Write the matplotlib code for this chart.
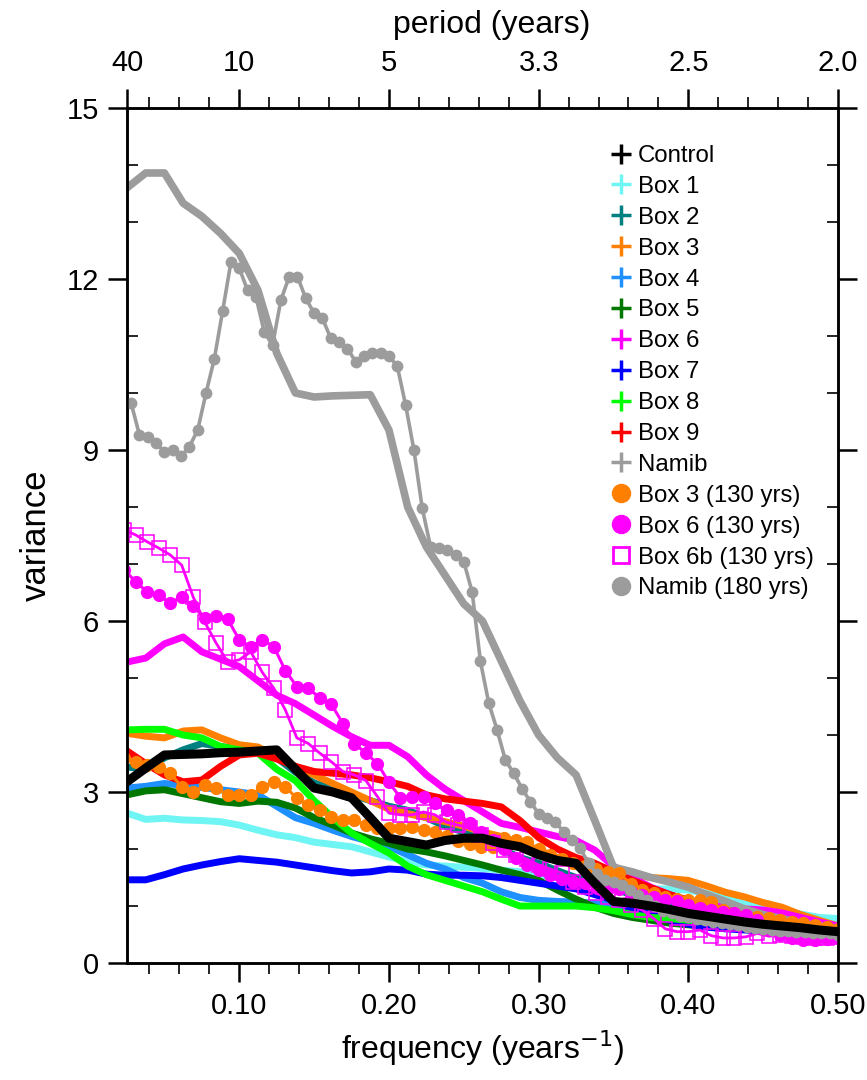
import numpy as np
import matplotlib
matplotlib.use("Agg")
import matplotlib.pyplot as plt
from matplotlib.lines import Line2D
from matplotlib.ticker import MultipleLocator, FixedLocator

plt.rcParams["font.family"] = ["Liberation Sans", "DejaVu Sans"]

# frequency grids (cycles per year)
freq_80 = np.arange(2, 41) / 80.0      # 40-yr runs
freq_130 = np.arange(3, 66) / 130.0    # 130-yr runs
freq_180 = np.arange(5, 91) / 180.0    # Namib 180-yr

control = [3.18, 3.42, 3.65, 3.66, 3.67, 3.69, 3.70, 3.72, 3.74, 3.40,
           3.07, 3.00, 2.90, 2.55, 2.19, 2.13, 2.07, 2.15, 2.19, 2.19,
           2.10, 2.04, 1.90, 1.80, 1.75, 1.40, 1.08, 1.05, 1.00, 0.94,
           0.87, 0.82, 0.77, 0.72, 0.68, 0.65, 0.62, 0.58, 0.55]
box1 = [2.63, 2.52, 2.54, 2.51, 2.50, 2.48, 2.42, 2.33, 2.25, 2.20,
        2.12, 2.08, 2.04, 1.95, 1.86, 1.78, 1.72, 1.70, 1.68, 1.66,
        1.63, 1.60, 1.55, 1.50, 1.45, 1.40, 1.35, 1.30, 1.30, 1.30,
        1.28, 1.22, 1.15, 1.08, 1.00, 0.93, 0.86, 0.80, 0.78]
box2 = [3.44, 3.40, 3.60, 3.74, 3.85, 3.80, 3.75, 3.72, 3.60, 3.35,
        3.16, 3.05, 2.95, 2.85, 2.75, 2.68, 2.55, 2.40, 2.30, 2.15,
        2.00, 1.85, 1.75, 1.62, 1.50, 1.40, 1.30, 1.20, 1.12, 1.05,
        0.98, 0.92, 0.86, 0.80, 0.75, 0.70, 0.66, 0.62, 0.58]
box3 = [4.03, 3.98, 3.95, 4.07, 4.09, 3.95, 3.83, 3.79, 3.62, 3.45,
        3.30, 3.15, 3.00, 2.85, 2.70, 2.62, 2.55, 2.48, 2.40, 2.30,
        2.22, 2.10, 1.98, 1.85, 1.75, 1.68, 1.62, 1.56, 1.50, 1.48,
        1.45, 1.35, 1.24, 1.16, 1.06, 0.98, 0.85, 0.75, 0.65]
box4 = [3.07, 3.10, 3.15, 3.12, 3.08, 3.04, 3.00, 2.95, 2.75, 2.55,
        2.45, 2.33, 2.22, 2.13, 2.04, 1.90, 1.75, 1.65, 1.50, 1.40,
        1.25, 1.15, 1.10, 1.08, 1.07, 1.05, 1.00, 0.95, 0.90, 0.85,
        0.80, 0.75, 0.70, 0.66, 0.62, 0.60, 0.57, 0.55, 0.52]
box5 = [2.95, 3.02, 3.04, 2.97, 2.90, 2.83, 2.80, 2.84, 2.82, 2.72,
        2.55, 2.42, 2.28, 2.18, 2.10, 2.00, 1.95, 1.88, 1.80, 1.72,
        1.63, 1.55, 1.45, 1.28, 1.12, 0.98, 0.87, 0.80, 0.75, 0.70,
        0.67, 0.64, 0.62, 0.60, 0.58, 0.56, 0.55, 0.53, 0.52]
box6 = [5.28, 5.35, 5.60, 5.72, 5.46, 5.33, 5.20, 4.95, 4.70, 4.55,
        4.35, 4.15, 3.97, 3.82, 3.82, 3.62, 3.30, 3.05, 2.85, 2.65,
        2.45, 2.38, 2.30, 2.22, 2.15, 1.98, 1.70, 1.50, 1.33, 1.20,
        1.10, 1.02, 0.98, 0.95, 0.93, 0.88, 0.80, 0.72, 0.65]
box7 = [1.46, 1.46, 1.55, 1.65, 1.72, 1.78, 1.83, 1.80, 1.77, 1.72,
        1.67, 1.62, 1.58, 1.60, 1.65, 1.63, 1.56, 1.54, 1.54, 1.53,
        1.50, 1.45, 1.40, 1.35, 1.30, 1.20, 1.10, 0.95, 0.85, 0.75,
        0.68, 0.63, 0.60, 0.58, 0.56, 0.55, 0.53, 0.52, 0.50]
box8 = [4.09, 4.10, 4.10, 4.00, 3.95, 3.80, 3.74, 3.68, 3.40, 3.20,
        2.85, 2.55, 2.28, 2.10, 1.93, 1.70, 1.55, 1.45, 1.35, 1.25,
        1.12, 1.00, 1.00, 1.00, 1.00, 0.97, 0.92, 0.85, 0.80, 0.78,
        0.75, 0.72, 0.70, 0.68, 0.65, 0.62, 0.60, 0.57, 0.55]
box9 = [3.72, 3.50, 3.30, 3.18, 3.21, 3.45, 3.65, 3.68, 3.58, 3.45,
        3.36, 3.33, 3.30, 3.25, 3.18, 3.10, 2.95, 2.88, 2.84, 2.80,
        2.74, 2.50, 2.20, 2.00, 1.85, 1.75, 1.60, 1.45, 1.32, 1.20,
        1.10, 1.00, 0.92, 0.85, 0.78, 0.72, 0.66, 0.60, 0.55]
namib = [13.60, 13.86, 13.86, 13.33, 13.10, 12.80, 12.45, 11.80, 10.70, 10.00,
         9.93, 9.95, 9.96, 9.97, 9.35, 8.00, 7.30, 6.80, 6.30, 6.00,
         5.30, 4.60, 4.00, 3.60, 3.30, 2.50, 1.68, 1.60, 1.50, 1.42,
         1.33, 1.20, 1.08, 0.95, 0.85, 0.78, 0.70, 0.65, 0.60]

box3_130 = [3.60, 3.53, 3.47, 3.44, 3.33, 3.09, 3.00, 3.12, 3.07, 2.95,
            2.95, 2.95, 3.09, 3.18, 3.09, 2.89, 2.77, 2.68, 2.57, 2.51,
            2.51, 2.42, 2.37, 2.37, 2.37, 2.39, 2.33, 2.30, 2.22, 2.14,
            2.08, 2.04, 2.04, 2.19, 2.16, 2.12, 2.00, 1.90, 1.82, 1.75,
            1.70, 1.65, 1.60, 1.58, 1.38, 1.28, 1.22, 1.16, 1.13, 1.10,
            1.10, 1.07, 0.93, 0.88, 0.84, 0.81, 0.79, 0.75, 0.72, 0.70,
            0.67, 0.63, 0.60]
box6_130 = [6.90, 6.69, 6.51, 6.46, 6.31, 6.43, 6.26, 6.05, 6.08, 6.03,
            5.67, 5.55, 5.67, 5.55, 5.13, 4.85, 4.82, 4.65, 4.54, 4.20,
            3.85, 3.68, 3.50, 3.17, 2.90, 2.92, 2.92, 2.80, 2.68, 2.60,
            2.45, 2.30, 2.15, 2.00, 1.85, 1.72, 1.63, 1.54, 1.47, 1.43,
            1.40, 1.37, 1.33, 1.30, 1.25, 1.20, 1.15, 1.10, 1.08, 1.02,
            0.97, 0.93, 0.90, 0.87, 0.84, 0.75, 0.60, 0.50, 0.44, 0.40,
            0.40, 0.42, 0.44]
box6b_130 = [7.60, 7.51, 7.39, 7.28, 7.16, 6.98, 6.42, 5.98, 5.61, 5.28,
             5.32, 5.46, 5.10, 4.82, 4.44, 3.95, 3.85, 3.68, 3.53, 3.36,
             3.30, 3.20, 2.92, 2.63, 2.60, 2.60, 2.65, 2.60, 2.47, 2.42,
             2.37, 2.25, 2.10, 1.98, 1.90, 1.82, 1.72, 1.65, 1.58, 1.42,
             1.33, 1.22, 1.16, 1.10, 1.02, 0.93, 0.78, 0.60, 0.55, 0.55,
             0.58, 0.48, 0.44, 0.44, 0.46, 0.52, 0.47, 0.50, 0.48, 0.45,
             0.44, 0.44, 0.45]
namib_180 = [9.82, 9.26, 9.23, 9.12, 8.97, 9.00, 8.89, 9.06, 9.35, 10.00,
             10.60, 11.44, 12.30, 12.19, 11.80, 11.69, 11.07, 10.84, 11.63, 12.04,
             12.04, 11.66, 11.40, 11.31, 10.96, 10.90, 10.78, 10.55, 10.65, 10.70,
             10.70, 10.65, 10.47, 9.79, 9.00, 7.98, 7.30, 7.28, 7.25, 7.16,
             7.04, 6.51, 5.29, 4.56, 4.09, 3.56, 3.33, 3.06, 2.83, 2.62,
             2.54, 2.48, 2.30, 2.16, 2.01, 1.75, 1.57, 1.46, 1.42, 1.37,
             1.28, 1.19, 1.10, 1.00, 0.92, 0.87, 0.83, 0.80, 0.77, 0.75,
             0.72, 0.70, 0.68, 0.66, 0.64, 0.62, 0.60, 0.58, 0.57, 0.56,
             0.55, 0.54, 0.53, 0.52, 0.52, 0.50]

box_names = ["Box 1", "Box 2", "Box 3", "Box 4", "Box 5",
             "Box 6", "Box 7", "Box 8", "Box 9"]
box_values = [box1, box2, box3, box4, box5, box6, box7, box8, box9]
box_colors = ["#70F5F5", "#008080", "#FF8000", "#1E90FF", "#007800",
              "#FF00FF", "#0000FF", "#00FF00", "#FF0000"]
gray = "#9C9C9C"

period_ticks = [0.025, 0.1, 0.2, 0.3, 0.4, 0.5]
period_labels = ["40", "10", "5", "3.3", "2.5", "2.0"]

fig = plt.figure(figsize=(8.67, 10.8), dpi=100)
ax = fig.add_axes([0.1465, 0.1083, 0.8201, 0.7917])

for vals, col in zip(box_values, box_colors):
    ax.plot(freq_80, vals, color=col, lw=5.0, solid_joinstyle="round", zorder=2)
ax.plot(freq_80, namib, color=gray, lw=5.5, zorder=2)

ax.plot(freq_130, box3_130, color="#FF8000", lw=2.2, marker="o", ms=9.5,
        mec="none", zorder=3)
ax.plot(freq_130, box6_130, color="#FF00FF", lw=2.2, marker="o", ms=9.5,
        mec="none", zorder=3)
ax.plot(freq_130, box6b_130, color="#FF00FF", lw=2.0, marker="s", ms=9.5,
        mfc="none", mec="#FF00FF", mew=1.1, zorder=3)
ax.plot(freq_180, namib_180, color=gray, lw=2.6, marker="o", ms=8.5,
        mec="none", zorder=4)

ax.plot(freq_80, control, color="black", lw=6.5, zorder=5)

ax.set_xlim(0.025, 0.5)
ax.set_ylim(0, 15)
ax.xaxis.set_major_locator(FixedLocator([0.1, 0.2, 0.3, 0.4, 0.5]))
ax.xaxis.set_minor_locator(MultipleLocator(0.02))
ax.set_xticklabels(["0.10", "0.20", "0.30", "0.40", "0.50"])
ax.yaxis.set_major_locator(MultipleLocator(3))
ax.yaxis.set_minor_locator(MultipleLocator(1))

ax.tick_params(axis="x", which="major", direction="out", length=14, width=1.8,
               labelsize=21, pad=7)
ax.tick_params(axis="x", which="minor", direction="out", length=8, width=1.2)
ax.tick_params(axis="y", which="major", direction="out", length=14, width=1.8,
               labelsize=21, right=True, pad=6)
ax.tick_params(axis="y", which="minor", direction="in", length=8, width=1.2,
               right=True)
for sp in ax.spines.values():
    sp.set_linewidth(1.8)

ax.set_xlabel("frequency (years$^{-1}$)", fontsize=23, labelpad=6)
ax.set_ylabel("variance", fontsize=25, labelpad=10)

ax2 = ax.twiny()
ax2.set_xlim(ax.get_xlim())
ax2.xaxis.set_major_locator(FixedLocator(period_ticks))
ax2.set_xticklabels(period_labels)
ax2.xaxis.set_minor_locator(MultipleLocator(0.02))
ax2.tick_params(axis="x", which="major", direction="out", length=14, width=1.8,
                labelsize=21, pad=8)
ax2.tick_params(axis="x", which="minor", direction="out", length=8, width=1.2)
ax2.set_xlabel("period (years)", fontsize=23, labelpad=12)
ax2.xaxis.label.set_x(0.513)
for sp in ax2.spines.values():
    sp.set_linewidth(1.8)

handles = [Line2D([], [], color="black", marker="+", ls="none", ms=14, mew=2.5)]
labels = ["Control"]
for name, col in zip(box_names, box_colors):
    handles.append(Line2D([], [], color=col, marker="+", ls="none", ms=14, mew=2.5))
    labels.append(name)
handles.append(Line2D([], [], color=gray, marker="+", ls="none", ms=14, mew=2.5))
labels.append("Namib")
handles.append(Line2D([], [], color="#FF8000", marker="o", ls="none", ms=13))
labels.append("Box 3 (130 yrs)")
handles.append(Line2D([], [], color="#FF00FF", marker="o", ls="none", ms=13))
labels.append("Box 6 (130 yrs)")
handles.append(Line2D([], [], color="#FF00FF", marker="s", ls="none", ms=11,
                      mfc="none", mew=2))
labels.append("Box 6b (130 yrs)")
handles.append(Line2D([], [], color=gray, marker="o", ls="none", ms=13))
labels.append("Namib (180 yrs)")

ax.legend(handles, labels, loc="upper left",
          bbox_to_anchor=(609 / 867, 1 - 145 / 1080),
          bbox_transform=fig.transFigure, frameon=False, fontsize=17.3,
          handlelength=1.0, handletextpad=0.2, labelspacing=0.37,
          borderpad=0, borderaxespad=0)

fig.savefig("out.png", dpi=100)
